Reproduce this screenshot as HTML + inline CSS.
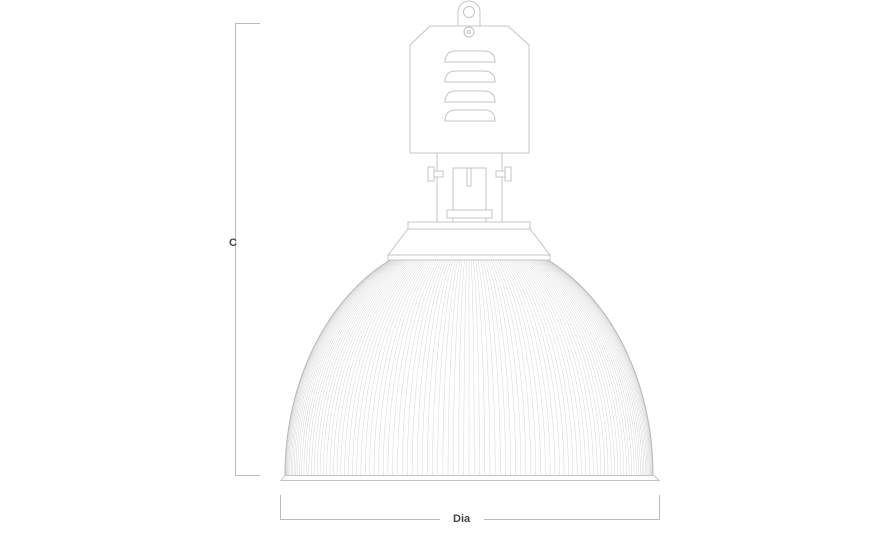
<!DOCTYPE html>
<html><head><meta charset="utf-8"><style>
html,body{margin:0;padding:0;background:#fff;width:876px;height:533px;overflow:hidden}
svg{display:block}
text{font-family:"Liberation Sans",sans-serif;font-weight:bold;font-size:11px;fill:#444}
</style></head><body>
<svg id="s" width="876" height="533" viewBox="0 0 876 533" xmlns="http://www.w3.org/2000/svg">
<g fill="none" stroke="#bbb" stroke-width="1">
<path d="M260,23.5H235.5V475.5H260"/>
<path d="M280.5,495V519.5H440M484,519.5H659.5V495"/>
</g>
<text x="229" y="246">C</text>
<text x="453" y="522">Dia</text>
<g id="dome" fill="none" stroke="#d6d6d6" stroke-width="0.5"></g>
<g fill="#fff" stroke="#c4c4c4" stroke-width="1">
<path d="M285,475.5H654L659,480.5H281Z"/>
<path d="M458,26V12A11,11 0 0 1 480,12V26"/>
<circle cx="469" cy="12" r="5.5"/>
<path d="M430,26H508L529,45V153H410V45Z"/>
<circle cx="469" cy="32" r="5"/><circle cx="469" cy="32" r="1.5"/>
<path d="M445,62Q445,51 456,51H484Q495,51 495,62Z"/>
<path d="M445,82Q445,71 456,71H484Q495,71 495,82Z"/>
<path d="M445,102Q445,91 456,91H484Q495,91 495,102Z"/>
<path d="M445,121Q445,110 456,110H484Q495,110 495,121Z"/>
<path d="M437,153H502V222H437Z"/>
<path d="M453,168H486V222H453Z"/>
<path d="M447,210H492V218H447Z"/>
<path d="M428,167H434V181H428Z"/><path d="M434,171H443V177H434Z"/>
<path d="M505,167H511V181H505Z"/><path d="M496,171H505V177H496Z"/>
<path d="M467,168H471V186H467Z"/>
<path d="M408,222H530V229H408Z"/>
<path d="M408,229H530L550,255H388Z"/>
<path d="M388,255H550V260H388Z"/>
</g>
</svg>
<script>
(function(){
var g=document.getElementById('dome'),cx=469,out='';
var t0=Math.asin(79/184);
var N=110;
for(var i=0;i<=N;i++){
 var phi=Math.PI*i/N,c=Math.cos(phi),d='';
 for(var k=0;k<=20;k++){
  var th=t0+(Math.PI/2-t0)*k/20;
  var x=cx+c*184*Math.sin(th), y=475-238*Math.cos(th);
  if(y<260)y=260;
  d+=(k?'L':'M')+x.toFixed(2)+','+y.toFixed(2);
 }
 out+='<path d="'+d+'"/>';
}
var d2='',d3='';
for(var k=0;k<=40;k++){var th=t0+(Math.PI/2-t0)*k/40;var y=(475-238*Math.cos(th)).toFixed(2);d2+=(k?'L':'M')+(cx-184*Math.sin(th)).toFixed(2)+','+y;d3+=(k?'L':'M')+(cx+184*Math.sin(th)).toFixed(2)+','+y;}
out+='<path d="'+d2+'" stroke="#b8b8b8" stroke-width="1"/><path d="'+d3+'" stroke="#b8b8b8" stroke-width="1"/>';
g.innerHTML=out;
})();
</script>
</body></html>
